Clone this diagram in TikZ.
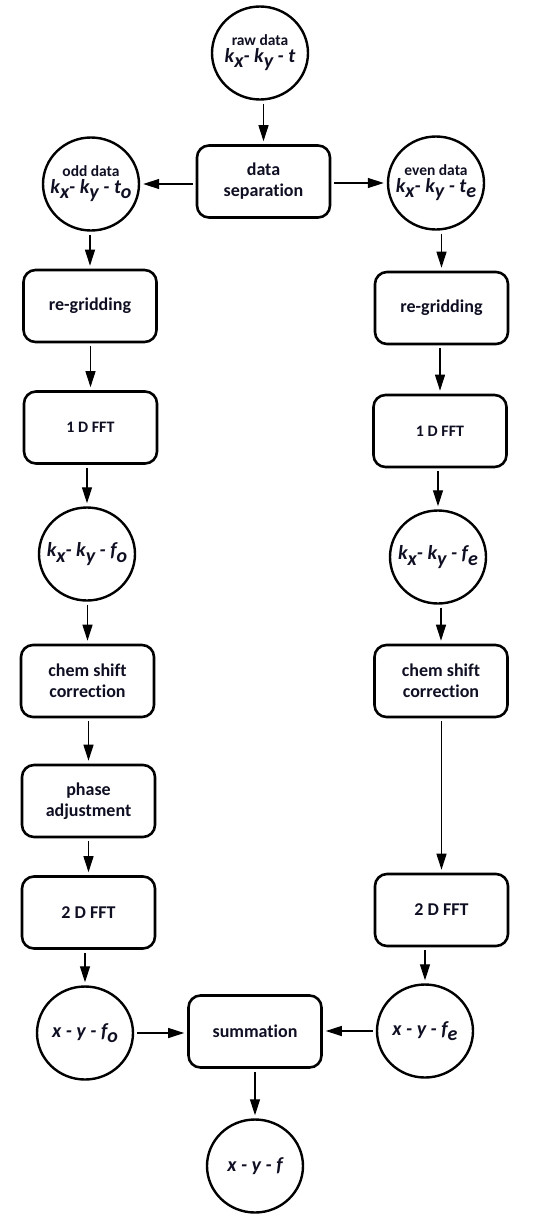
\documentclass[tikz,border=0pt]{standalone}
\usepackage{fontspec}
\setmainfont{Carlito}[Ligatures=NoCommon]
\usetikzlibrary{arrows.meta,shapes.geometric}
\newcommand\lowr[1]{\raisebox{-0.28em}{#1}}
\newcommand\mth[1]{{\fontsize{20}{22}\selectfont\bfseries\itshape #1}}
\newcommand\cirtext[1]{\makebox[0pt]{\begin{tabular}{@{}c@{}}#1\end{tabular}}}
\newcommand\lbl[1]{{\fontsize{15.5}{17}\selectfont\bfseries #1}}
\definecolor{txt}{RGB}{15,15,35}
\begin{document}
\begin{tikzpicture}[x=1pt,y=-1pt,
  box/.style={draw, line width=2.6pt, rounded corners=12pt, minimum width=133pt,
    minimum height=72pt, align=center, inner sep=2pt,
    font=\fontsize{18}{21}\selectfont\bfseries, text=txt},
  circ/.style={draw, ellipse, line width=2.4pt, minimum width=96pt,
    minimum height=93pt, inner sep=0pt, text=txt},
  arr/.style={line width=1.2pt, -{Triangle[length=16pt,width=10pt]},
    shorten >=3pt, shorten <=3pt}]
\useasboundingbox (0,0) rectangle (541,1221);

% nodes
\node[circ] (raw)  at (260,53)  {\cirtext{\lbl{raw data}\\[-1pt]\mth{k\lowr{x}- k\lowr{y} - t}}};
\node[box]  (sep)  at (263.5,181.5) {data\\separation};
\node[circ] (odd)  at (91,184)  {\cirtext{\lbl{odd data}\\[-1pt]\mth{k\lowr{x}- k\lowr{y} - t\lowr{o}}}};
\node[circ] (even) at (436,183) {\cirtext{\lbl{even data}\\[-1pt]\mth{k\lowr{x}- k\lowr{y} - t\lowr{e}}}};

\node[box] (regL) at (90,306)   {re-gridding};
\node[box] (regR) at (441.5,308) {re-gridding};
\node[box, font=\fontsize{16}{18}\selectfont\bfseries] (fftL) at (90.5,427.5) {1 D FFT};
\node[box, font=\fontsize{16}{18}\selectfont\bfseries] (fftR) at (440,431)   {1 D FFT};

\node[circ] (kfo) at (87,554)  {\cirtext{\mth{k\lowr{x}- k\lowr{y} - f\lowr{o}}}};
\node[circ] (kfe) at (438,557) {\cirtext{\mth{k\lowr{x}- k\lowr{y} - f\lowr{e}}}};

\node[box] (chemL) at (87.5,681) {chem shift\\correction};
\node[box] (chemR) at (441,681)  {chem shift\\correction};
\node[box] (phase) at (88.5,801) {phase\\adjustment};
\node[box] (fft2L) at (88.5,912.5) {2 D FFT};
\node[box] (fft2R) at (441.5,910)  {2 D FFT};

\node[circ] (xyfo) at (85,1033)  {\cirtext{\mth{x - y - f\lowr{o}}}};
\node[box]  (sum)  at (255,1031.5) {summation};
\node[circ] (xyfe) at (425,1031) {\cirtext{\mth{x - y - f\lowr{e}}}};
\node[circ] (xyf)  at (255,1166) {\cirtext{\mth{x - y - f}}};

% connectors
\draw[arr] (raw.south -| sep.north) -- (sep.north);
\draw[arr] (sep.west |- odd.east) -- (odd.east);
\draw[arr] (sep.east |- even.west) -- (even.west);
\draw[arr] (odd.south -| regL.north) -- (regL.north);
\draw[arr] (even.south -| regR.north) -- (regR.north);
\draw[arr] (regL.south -| fftL.north) -- (fftL.north);
\draw[arr] (regR.south -| fftR.north) -- (fftR.north);
\draw[arr] (fftL.south -| kfo.north) -- (kfo.north);
\draw[arr] (fftR.south -| kfe.north) -- (kfe.north);
\draw[arr] (kfo.south -| chemL.north) -- (chemL.north);
\draw[arr] (kfe.south -| chemR.north) -- (chemR.north);
\draw[arr] (chemL.south -| phase.north) -- (phase.north);
\draw[arr] (phase.south -| fft2L.north) -- (fft2L.north);
\draw[arr] (chemR.south -| fft2R.north) -- (fft2R.north);
\draw[arr] (fft2L.south -| xyfo.north) -- (xyfo.north);
\draw[arr] (fft2R.south -| xyfe.north) -- (xyfe.north);
\draw[arr] (xyfo.east) -- (sum.west |- xyfo.east);
\draw[arr] (xyfe.west) -- (sum.east |- xyfe.west);
\draw[arr] (sum.south -| xyf.north) -- (xyf.north);
\end{tikzpicture}
\end{document}
